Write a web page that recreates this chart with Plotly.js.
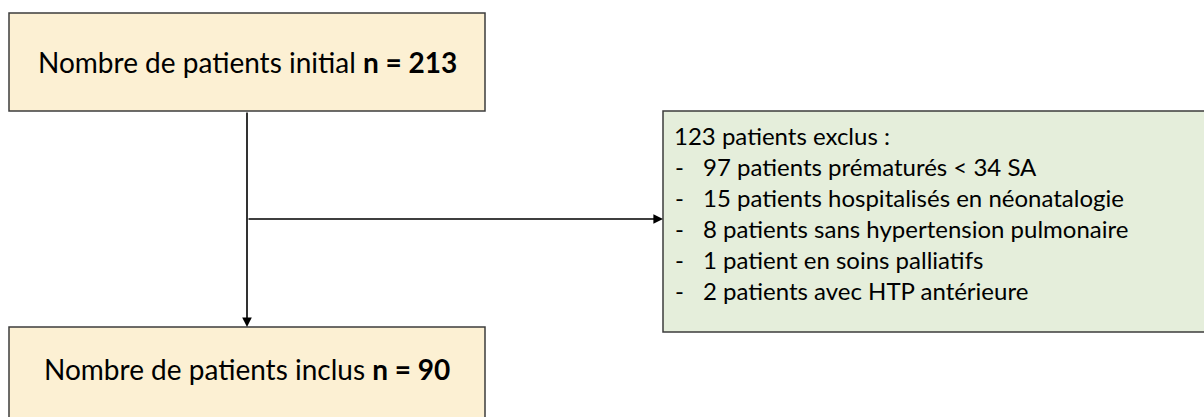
<!DOCTYPE html>
<html>
<head>
<meta charset="utf-8">
<script src="https://cdn.plot.ly/plotly-3.0.1.min.js"></script>
<style>html,body{margin:0;padding:0;background:#fff;}#chart{width:1204px;height:417px;}</style>
</head>
<body>
<div id="chart"></div>
<script>
// Flowchart data
const initialLabel = "Nombre de patients initial";
const initialCount = 213;
const includedLabel = "Nombre de patients inclus";
const includedCount = 90;
const excludedCount = 123;
const exclusionCounts = [97, 15, 8, 1, 2];
const exclusionReasons = [
  "patients prématurés < 34 SA",
  "patients hospitalisés en néonatalogie",
  "patients sans hypertension pulmonaire",
  "patient en soins palliatifs",
  "patients avec HTP antérieure"
];

const FONT = "Lato, 'Open Sans', sans-serif";
const beige = "#FCF0D3";
const green = "#E5EEDB";
const border = "#3c3c3c";

// Layout geometry (pixels, data coords == pixels)
const topBox = {x0: 9, x1: 485, y0: 13, y1: 111};
const botBox = {x0: 9, x1: 485, y0: 327, y1: 430};
const sideBox = {x0: 663, x1: 1215, y0: 111, y1: 332};
const midX = 247;
const branchY = 219;

const shapes = [
  {type: "rect", xref: "x", yref: "y", x0: topBox.x0, x1: topBox.x1, y0: topBox.y0, y1: topBox.y1,
   fillcolor: beige, line: {color: border, width: 1.5}, layer: "below"},
  {type: "rect", xref: "x", yref: "y", x0: botBox.x0, x1: botBox.x1, y0: botBox.y0, y1: botBox.y1,
   fillcolor: beige, line: {color: border, width: 1.5}, layer: "below"},
  {type: "rect", xref: "x", yref: "y", x0: sideBox.x0, x1: sideBox.x1, y0: sideBox.y0, y1: sideBox.y1,
   fillcolor: green, line: {color: border, width: 1.5}, layer: "below"}
];

const annotations = [];
annotations.push({
  x: midX, y: 62, xref: "x", yref: "y", showarrow: false,
  text: initialLabel + " <b>n = " + initialCount + "</b>",
  font: {family: FONT, size: 28, color: "#000"}, xanchor: "center", yanchor: "middle"
});
annotations.push({
  x: midX, y: 369, xref: "x", yref: "y", showarrow: false,
  text: includedLabel + " <b>n = " + includedCount + "</b>",
  font: {family: FONT, size: 28, color: "#000"}, xanchor: "center", yanchor: "middle"
});
// arrows
annotations.push({
  x: midX, y: botBox.y0, ax: midX, ay: topBox.y1, xref: "x", yref: "y", axref: "x", ayref: "y",
  showarrow: true, arrowhead: 2, arrowsize: 1.2, arrowwidth: 1.6, arrowcolor: "#000", text: ""
});
annotations.push({
  x: sideBox.x0, y: branchY, ax: midX, ay: branchY, xref: "x", yref: "y", axref: "x", ayref: "y",
  showarrow: true, arrowhead: 2, arrowsize: 1.2, arrowwidth: 1.6, arrowcolor: "#000", text: ""
});
// side box text
const lineY0 = 135, lineStep = 31;
const sideSize = 24;
annotations.push({
  x: 672, y: lineY0, xref: "x", yref: "y", showarrow: false, text: excludedCount + " patients exclus :",
  font: {family: FONT, size: sideSize, color: "#000"}, xanchor: "left", yanchor: "middle"
});
exclusionCounts.forEach((c, i) => {
  const y = lineY0 + lineStep * (i + 1);
  annotations.push({x: 673, y: y, xref: "x", yref: "y", showarrow: false, text: "-",
    font: {family: FONT, size: sideSize, color: "#000"}, xanchor: "left", yanchor: "middle"});
  annotations.push({x: 701, y: y, xref: "x", yref: "y", showarrow: false,
    text: c + " " + exclusionReasons[i],
    font: {family: FONT, size: sideSize, color: "#000"}, xanchor: "left", yanchor: "middle"});
});

const layout = {
  width: 1204, height: 417,
  margin: {l: 0, r: 0, t: 0, b: 0},
  paper_bgcolor: "#fff", plot_bgcolor: "#fff",
  xaxis: {range: [0, 1204], visible: false, fixedrange: true},
  yaxis: {range: [417, 0], visible: false, fixedrange: true},
  shapes: shapes, annotations: annotations, showlegend: false
};
Plotly.newPlot("chart", [], layout, {staticPlot: true, displayModeBar: false});
</script>
</body>
</html>
